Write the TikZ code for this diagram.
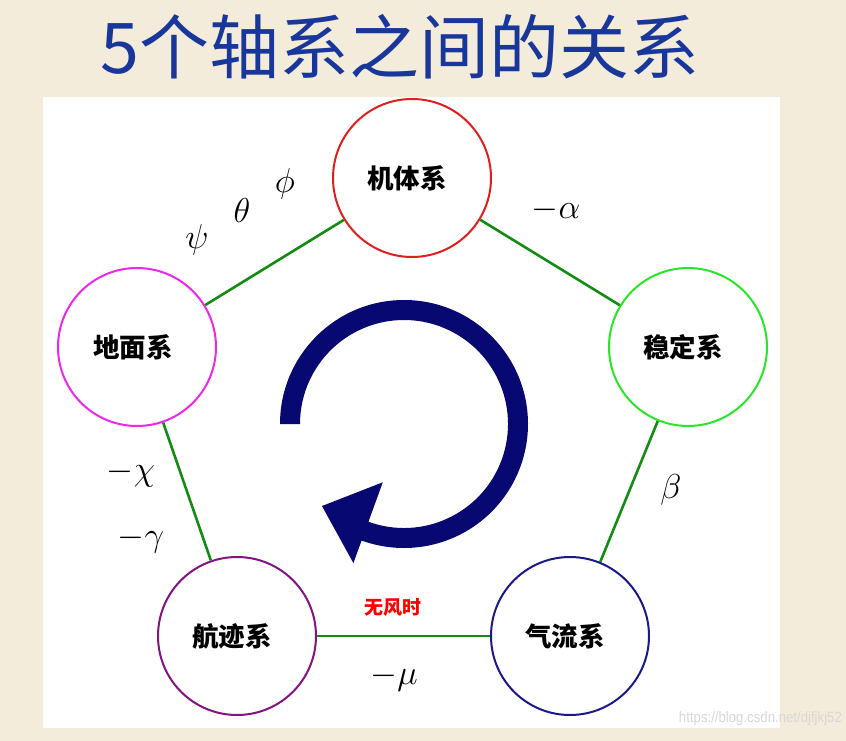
\documentclass[tikz,border=0pt]{standalone}
\usepackage{fontspec}
\usetikzlibrary{calc}
\newfontfamily\cjk{Noto Sans CJK SC}
\newfontfamily\wmfont{Liberation Sans}
\newcommand\gk[1]{\scalebox{2}{$#1$}}
\definecolor{bgbeige}{RGB}{244,236,219}
\definecolor{titleblue}{RGB}{25,55,155}
\definecolor{linkgreen}{RGB}{20,140,20}
\definecolor{cred}{RGB}{225,30,30}
\definecolor{cgreen}{RGB}{40,230,40}
\definecolor{cnavy}{RGB}{25,25,135}
\definecolor{cpurple}{RGB}{130,20,130}
\definecolor{cmagenta}{RGB}{235,40,235}
\definecolor{arrownavy}{RGB}{8,8,115}
\definecolor{wmgray}{RGB}{215,215,215}
\begin{document}
\begin{tikzpicture}[x=1pt,y=-1pt,
  axisnode/.style={circle,draw=#1,line width=2pt,minimum size=158pt,inner sep=0pt,
    font=\cjk\bfseries\fontsize{26.5}{26.5}\selectfont,text=black},
  link/.style={draw=linkgreen,line width=2.6pt},
  greek/.style={font=\fontsize{17}{17}\selectfont,text=black,inner sep=0pt}]
% background and panel
\fill[bgbeige] (0,0) rectangle (846,741);
\useasboundingbox (0,0) rectangle (846,741);
\fill[white] (43,97) rectangle (780,728);
% title
\node[font=\cjk\fontsize{70}{70}\selectfont,text=titleblue] (title) at (400,47) {5个轴系之间的关系};
% circles
\node[axisnode=cred] (ti) at (412,178) {\hspace*{-10pt}机体系};
\node[axisnode=cgreen] (wd) at (688,347) {\hspace*{-10pt}稳定系};
\node[axisnode=cnavy] (ql) at (570,636) {\hspace*{-10pt}气流系};
\node[axisnode=cpurple] (hj) at (237,636) {\hspace*{-10pt}航迹系};
\node[axisnode=cmagenta] (dm) at (137,347) {\hspace*{-8pt}地面系};
% links
\draw[link] (ti) -- (wd);
\draw[link] (wd) -- (ql);
\draw[link] (ql) -- (hj);
\draw[link] (hj) -- (dm);
\draw[link] (dm) -- (ti);
% labels
\node[greek] (psi) at (197,240) {\gk{\psi}};
\node[greek] (theta) at (242,210) {\gk{\theta}};
\node[greek] (phi) at (285,184) {\gk{\phi}};
\node[greek] (alpha) at (556,210) {\gk{-\alpha}};
\node[greek] (beta) at (671,490) {\gk{\beta}};
\node[greek] (chi) at (131,474) {\gk{-\chi}};
\node[greek] (gamma) at (141,540) {\gk{-\gamma}};
\node[greek] (mu) at (394,678) {\gk{-\mu}};
\node[font=\cjk\bfseries\fontsize{19}{19}\selectfont,text=red] (wufeng) at (393,607) {无风时};
% circular arrow
\coordinate (ac) at (404,424);
\fill[arrownavy]
  ($(ac)+(180:124)$) arc[start angle=180,end angle=470,radius=124]
  -- ($(ac)+(470:148)$) -- ($(ac)+(495:116)$) -- ($(ac)+(470:62)$)
  -- ($(ac)+(470:104)$) arc[start angle=470,end angle=180,radius=104] -- cycle;
% watermark
\node[font=\wmfont\fontsize{15}{15}\selectfont,text=wmgray,anchor=east,xscale=0.88] (wm) at (845,719) {https://blog.csdn.net/djfjkj52};
\end{tikzpicture}
\end{document}
